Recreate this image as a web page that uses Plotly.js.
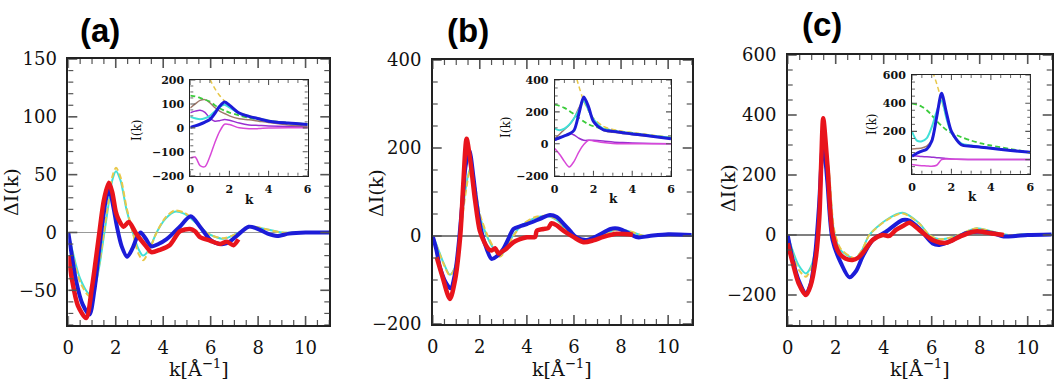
<!DOCTYPE html>
<html>
<head>
<meta charset="utf-8">
<script src="https://cdn.plot.ly/plotly-3.0.1.min.js"></script>
<style>
  html, body { margin: 0; padding: 0; background: #fff; }
  #myDiv { width: 1063px; height: 387px; }
</style>
</head>
<body>
<div id="myDiv"></div>
<script>
// ---- panel (a) main : Delta I(k) ----
var kA_red  = [0.0, 0.15, 0.4, 0.75, 1.0, 1.15, 1.31, 1.5, 1.71, 1.85, 2.0, 2.1, 2.33, 2.55, 2.86, 3.28, 3.5, 3.85, 4.27, 4.7, 5.13, 5.34, 5.55, 5.97, 6.4, 6.68, 6.96, 7.17];
var vA_red  = [-20, -40, -63, -74, -47, -25, 0, 28, 43, 35, 18, 12, 5, 9, -1, -12, -17, -15, -11, 1, 3, 1, -4, -7, -10, -8, -11, -6];
var kA_blue = [0, 0.15, 0.32, 0.6, 0.89, 1.1, 1.3, 1.45, 1.6, 1.73, 1.9, 2.05, 2.25, 2.48, 2.7, 2.9, 3.05, 3.25, 3.5, 3.8, 4.13, 4.4, 4.7, 5.16, 5.55, 5.97, 6.2, 6.54, 6.8, 7.1, 7.6, 8.0, 8.4, 8.8, 9.3, 10, 11];
var vA_blue = [0, -20, -41, -62, -71, -50, -15, 10, 30, 37, 22, 5, -12, -21, -14, -4, 0, -5, -12, -10, -6, -1, 5, 14, 5, -6, -9, -10, -8, -3, 5, 3, -1, -3, -1, 0, 0];
var kA_thin = [0, 0.2, 0.5, 0.89, 1.1, 1.3, 1.5, 1.7, 1.85, 2.01, 2.2, 2.45, 2.72, 2.95, 3.15, 3.4, 3.72, 4.1, 4.48, 4.9, 5.4, 5.82, 6.1, 6.54, 7.0, 7.7, 8.3, 9.0, 10, 11];
var vA_cyan = [0, -18, -40, -53, -48, -30, -3, 25, 45, 53, 45, 20, 0, -14, -20, -15, 0, 12, 18, 16, 8, 0, -3, -5.5, -2, 5, 3, 0, 0, 0];
var vA_yell = [0, -20, -43, -55, -48, -28, 0, 28, 48, 56, 48, 22, 0, -18, -24, -16, 0, 13, 19, 17, 9, 0, -3, -5, -2, 5, 3, 0, 0, 0];

// ---- insets : I(k) on a common k grid ----
var kIn = [0, 0.25, 0.5, 0.75, 1.0, 1.25, 1.5, 1.75, 2.0, 2.5, 3.0, 3.5, 4.0, 5.0, 6.0];
var inA_blue    = [2, 8, 15, 24, 35, 60, 90, 108, 95, 62, 48, 38, 28, 20, 14];
var inA_brown   = [83, 100, 115, 118, 105, 85, 70, 60, 50, 38, 34, 28, 22, 12, 7];
var inA_green   = [135, 132, 125, 118, 110, 95, 82, 72, 64, 52, 42, 35, 28, 20, 15];
var inA_yellow  = [900, 600, 400, 290, 205, 165, 135, 112, 92, 65, 50, 40, 32, 22, 17];
var inA_cyan    = [46, 40, 36, 40, 50, 68, 88, 97, 85, 60, 48, 38, 30, 20, 15];
var inA_purple  = [63, 70, 74, 65, 40, 28, 30, 35, 32, 20, 12, 10, 8, 6, 5];
var inA_magenta = [-126, -122, -158, -162, -120, -63, -15, 15, 14, 0, -4, -3, -1, 0, 0];

// ---- panel (b) main ----
var kB_red  = [0.17, 0.4, 0.73, 0.95, 1.17, 1.3, 1.44, 1.6, 1.8, 2.0, 2.2, 2.36, 2.5, 2.65, 2.8, 2.93, 3.1, 3.28, 3.5, 3.71, 4.0, 4.35, 4.42, 4.7, 4.9, 5.05, 5.27, 5.55, 5.97, 6.4, 6.82, 7.25, 7.81, 8.5];
var vB_red  = [-48, -90, -143, -100, 0, 120, 221, 170, 81, 12, -15, -29, -33, -28, -40, -36, -30, -21, -12, -7, -3, -2, 12, 16, 18, 29, 24, 12, -2, -14, -10, -2, 5, 3];
var kB_blue = [0, 0.15, 0.31, 0.55, 0.76, 0.95, 1.1, 1.25, 1.4, 1.56, 1.73, 1.85, 2.0, 2.2, 2.5, 2.75, 3.0, 3.2, 3.43, 3.7, 4.0, 4.56, 4.98, 5.27, 5.55, 5.83, 6.1, 6.54, 6.97, 7.55, 7.85, 8.2, 8.7, 9.2, 10, 11];
var vB_blue = [0, -30, -71, -105, -119, -85, -20, 70, 160, 194, 134, 80, 28, -15, -52, -45, -29, -8, 16, 22, 27, 39, 48, 43, 28, 12, -3, -9, 0, 16, 17, 10, -3, 0, 4, 2];
var kB_thin = [0, 0.2, 0.45, 0.73, 0.95, 1.15, 1.35, 1.6, 1.8, 2.0, 2.3, 2.6, 2.85, 3.1, 3.4, 3.8, 4.3, 4.9, 5.3, 5.9, 6.4, 7.0, 7.8, 8.4, 9.0, 10, 11];
var vB_cyan = [0, -25, -60, -88, -70, -10, 90, 155, 110, 45, 0, -30, -45, -30, 0, 25, 40, 45, 35, 0, -10, -3, 15, 10, 0, 4, 2];
var vB_yell = [0, -27, -62, -90, -72, -15, 80, 150, 115, 50, 5, -28, -47, -32, -2, 25, 42, 46, 36, 2, -10, -3, 14, 10, 0, 4, 2];

var inB_blue    = [26, 38, 50, 62, 85, 190, 294, 230, 140, 88, 78, 70, 62, 48, 32];
var inB_brown   = [32, 60, 90, 118, 160, 225, 275, 210, 150, 85, 72, 65, 58, 45, 32];
var inB_cyan    = [95, 85, 95, 120, 160, 210, 268, 210, 155, 95, 80, 72, 65, 50, 38];
var inB_green   = [245, 238, 225, 205, 185, 162, 140, 122, 110, 95, 85, 75, 68, 52, 38];
var inB_yellow  = [1500, 1100, 800, 600, 470, 360, 268, 205, 160, 110, 90, 78, 70, 55, 40];
var inB_purple  = [22, 35, 50, 64, 55, 35, 22, 22, 22, 18, 12, 8, 5, 2, 0];
var inB_magenta = [-30, -65, -110, -145, -110, -50, -5, 22, 18, 8, 2, 0, 0, 0, 0];

// ---- panel (c) main ----
var kC_red  = [0, 0.2, 0.45, 0.76, 0.95, 1.18, 1.32, 1.4, 1.48, 1.66, 1.87, 2.15, 2.4, 2.7, 2.95, 3.12, 3.54, 3.96, 4.23, 4.51, 4.8, 5.07, 5.48, 6.04, 6.6, 7.15, 7.71, 8.0, 8.5, 9.0];
var vC_red  = [-28, -90, -160, -200, -170, -72, 61, 250, 389, 228, 6, -61, -78, -83, -75, -61, -17, 0, -3, 17, 30, 41, 17, -17, -26, -6, 11, 12, 5, 0];
var kC_blue = [0, 0.2, 0.45, 0.76, 0.95, 1.15, 1.3, 1.48, 1.65, 1.87, 2.22, 2.57, 2.85, 3.12, 3.54, 4.1, 4.79, 5.07, 5.48, 6.04, 6.32, 6.87, 7.43, 8.12, 8.6, 9.0, 9.5, 10, 11];
var vC_blue = [0, -80, -150, -194, -165, -60, 90, 311, 180, -17, -94, -141, -120, -72, -17, 11, 50, 48, 22, -28, -33, -17, 6, 11, 5, -5, -3, 0, 2];
var kC_thin = [0, 0.2, 0.45, 0.76, 1.0, 1.2, 1.35, 1.53, 1.7, 1.94, 2.2, 2.57, 2.8, 3.1, 3.4, 4.1, 4.79, 5.48, 5.9, 6.32, 7.0, 7.83, 8.5, 9.2, 10, 11];
var vC_cyan = [0, -50, -100, -128, -100, -20, 130, 305, 220, 6, -50, -72, -80, -50, 0, 50, 74, 39, 0, -14, -5, 22, 12, 0, 3, 2];
var vC_yell = [0, -60, -115, -139, -105, -25, 120, 295, 225, 15, -45, -70, -78, -50, 0, 48, 72, 38, 0, -14, -4, 22, 12, 0, 3, 2];

var inC_blue    = [24, 45, 60, 75, 130, 300, 470, 330, 200, 105, 95, 88, 80, 65, 52];
var inC_brown   = [75, 78, 82, 95, 140, 300, 460, 320, 195, 105, 95, 88, 80, 65, 52];
var inC_cyan    = [199, 135, 130, 152, 230, 340, 420, 290, 190, 115, 100, 90, 82, 66, 50];
var inC_green   = [397, 390, 375, 350, 315, 275, 240, 210, 190, 160, 135, 115, 100, 75, 52];
var inC_yellow  = [3000, 2000, 1300, 900, 650, 540, 420, 300, 190, 105, 95, 88, 80, 65, 52];
var inC_purple  = [28, 25, 22, 20, 17, 14, 12, 8, 5, 2, 1, 0, 0, 0, 0];
var inC_magenta = [-35, -40, -43, -45, -47, -40, 0, 5, 3, 1, 0, 0, 0, 0, 0];

var RED = '#e8141c', BLUE = '#1c1cd8', CYAN = '#40e0d8', YELL = '#e8c84a',
    GREEN = '#3ccc3c', BROWN = '#a0786a', PURPLE = '#9a30d0', MAGENTA = '#d848d8';
var serif = 'DejaVu Serif, serif';

function curve(x, y, xa, ya, color, width, dash) {
  return {x: x, y: y, xaxis: xa, yaxis: ya, type: 'scatter', mode: 'lines',
          line: {color: color, width: width, dash: dash || 'solid', shape: 'spline', smoothing: 0.8},
          showlegend: false, hoverinfo: 'skip'};
}

function mainPanel(thin, cyan, yell, kb, blue, kr, red, xa, ya) {
  return [
    curve(thin, cyan, xa, ya, CYAN, 2),
    curve(thin, yell, xa, ya, YELL, 2, '6px,3px'),
    curve(kb, blue, xa, ya, BLUE, 4),
    curve(kr, red, xa, ya, RED, 4.5)
  ];
}

function insetPanel(vals, xa, ya) {
  return [
    curve(kIn, vals.purple, xa, ya, PURPLE, 1.5),
    curve(kIn, vals.magenta, xa, ya, MAGENTA, 1.5),
    curve(kIn, vals.brown, xa, ya, BROWN, 1.5),
    curve(kIn, vals.green, xa, ya, GREEN, 1.8, '5px,3px'),
    curve(kIn, vals.yellow, xa, ya, YELL, 1.5, '5px,3px'),
    curve(kIn, vals.cyan, xa, ya, CYAN, 2),
    curve(kIn, vals.blue, xa, ya, BLUE, 3)
  ];
}

var data = [].concat(
  mainPanel(kA_thin, vA_cyan, vA_yell, kA_blue, vA_blue, kA_red, vA_red, 'x', 'y'),
  insetPanel({blue: inA_blue, brown: inA_brown, green: inA_green, yellow: inA_yellow,
              cyan: inA_cyan, purple: inA_purple, magenta: inA_magenta}, 'x2', 'y2'),
  mainPanel(kB_thin, vB_cyan, vB_yell, kB_blue, vB_blue, kB_red, vB_red, 'x3', 'y3'),
  insetPanel({blue: inB_blue, brown: inB_brown, green: inB_green, yellow: inB_yellow,
              cyan: inB_cyan, purple: inB_purple, magenta: inB_magenta}, 'x4', 'y4'),
  mainPanel(kC_thin, vC_cyan, vC_yell, kC_blue, vC_blue, kC_red, vC_red, 'x5', 'y5'),
  insetPanel({blue: inC_blue, brown: inC_brown, green: inC_green, yellow: inC_yellow,
              cyan: inC_cyan, purple: inC_purple, magenta: inC_magenta}, 'x6', 'y6')
);

var W = 1063, H = 387;
function dx(a, b) { return [a / W, b / W]; }
function dy(top, bottom) { return [(H - bottom) / H, (H - top) / H]; }

function axis(dom, anchor, range, dtick, big) {
  return {
    domain: dom, anchor: anchor, range: range, tick0: 0, dtick: dtick,
    ticks: '', mirror: true, showline: true, linecolor: '#222', linewidth: big ? 1.5 : 1,
    showgrid: false, zeroline: false, ticklabelstandoff: big ? 6 : 3,
    tickfont: big ? {family: serif, size: 18, color: '#111'}
                  : {family: serif, size: 11, color: '#111', weight: 'bold'}
  };
}

var layout = {
  width: W, height: H,
  margin: {l: 0, r: 0, t: 0, b: 0},
  showlegend: false,
  xaxis:  axis(dx(68.3, 329.3), 'y', [0, 11], 2, true),
  yaxis:  axis(dy(59, 325), 'x', [-80, 150], 50, true),
  xaxis2: axis(dx(190.3, 307.7), 'y2', [0, 6], 2, false),
  yaxis2: axis(dy(80, 175.7), 'x2', [-200, 200], 100, false),
  xaxis3: axis(dx(432.7, 691.7), 'y3', [0, 11], 2, true),
  yaxis3: axis(dy(60, 324), 'x3', [-200, 400], 200, true),
  xaxis4: axis(dx(554.7, 671), 'y4', [0, 6], 2, false),
  yaxis4: axis(dy(80, 175.7), 'x4', [-200, 400], 200, false),
  xaxis5: axis(dx(787.7, 1051.7), 'y5', [0, 11], 2, true),
  yaxis5: axis(dy(55, 325), 'x5', [-300, 600], 200, true),
  xaxis6: axis(dx(912, 1030.3), 'y6', [0, 6], 2, false),
  yaxis6: axis(dy(75, 173.7), 'x6', [-100, 600], 200, false),
  shapes: [],
  annotations: []
};

// k-axis reference lines at I = 0 (grey in (a) and the insets, black in (b), (c))
var zeroRefs = [['x', 'y', '#999'], ['x2', 'y2', '#999'], ['x3', 'y3', '#000'],
                ['x4', 'y4', '#999'], ['x5', 'y5', '#000'], ['x6', 'y6', '#999']];
zeroRefs.forEach(function (z) {
  layout.shapes.push({type: 'line', xref: z[0] + ' domain', yref: z[1], x0: 0, x1: 1, y0: 0, y1: 0,
    line: {color: z[2], width: 1.2}, layer: 'below'});
});

// inward tick marks on all four sides of a box, built from the axis range and steps
function boxTicks(xa, ya, big) {
  var ax = layout[xa === 'x' ? 'xaxis' : 'xaxis' + xa.slice(1)];
  var ay = layout[ya === 'y' ? 'yaxis' : 'yaxis' + ya.slice(1)];
  var steps = {x: [ax.dtick, ax.dtick / 4], y: [ay.dtick, big ? ay.dtick / 5 : ay.dtick / 4]};
  if (big && ay.dtick === 200) steps.y[1] = 50;
  var L = big ? 9 : 5, l = big ? 5 : 3, col = '#555';
  function marks(letter, range, major, minor) {
    var i0 = Math.ceil(range[0] / minor - 1e-9), i1 = Math.floor(range[1] / minor + 1e-9);
    for (var i = i0; i <= i1; i++) {
      var v = i * minor;
      var isMajor = Math.abs(v / major - Math.round(v / major)) < 1e-6;
      var len = isMajor ? L : l, w = isMajor ? (big ? 1.6 : 1.1) : (big ? 1.2 : 0.9);
      [0, 1].forEach(function (side) {
        var s = side ? -len : len;
        if (letter === 'x') {
          layout.shapes.push({type: 'line', xref: xa, yref: ya + ' domain', ysizemode: 'pixel', yanchor: side,
            x0: v, x1: v, y0: 0, y1: s, line: {color: col, width: w}, layer: 'above'});
        } else {
          layout.shapes.push({type: 'line', xref: xa + ' domain', yref: ya, xsizemode: 'pixel', xanchor: side,
            x0: 0, x1: s, y0: v, y1: v, line: {color: col, width: w}, layer: 'above'});
        }
      });
    }
  }
  marks('x', ax.range, steps.x[0], steps.x[1]);
  marks('y', ay.range, steps.y[0], steps.y[1]);
}
boxTicks('x', 'y', true);
boxTicks('x2', 'y2', false);
boxTicks('x3', 'y3', true);
boxTicks('x4', 'y4', false);
boxTicks('x5', 'y5', true);
boxTicks('x6', 'y6', false);

// panel letters and axis titles
var letters = [['(a)', 100, 31], ['(b)', 468, 31], ['(c)', 822, 25]];
letters.forEach(function (l) {
  layout.annotations.push({text: '<b>' + l[0] + '</b>', x: l[1] / W, y: 1 - l[2] / H,
    xref: 'paper', yref: 'paper', showarrow: false, xanchor: 'center', yanchor: 'middle',
    font: {family: 'Liberation Sans, Arial, sans-serif', size: 33, color: '#000'}});
});
var xt = [198.8, 562.2, 919.7];
var yt = [[11, 192], [376, 193], [728, 188]];
for (var i = 0; i < 3; i++) {
  layout.annotations.push({text: 'k[Å<sup>−1</sup>]', x: xt[i] / W, y: 1 - 368 / H,
    xref: 'paper', yref: 'paper', showarrow: false, xanchor: 'center', yanchor: 'middle',
    font: {family: serif, size: 19, color: '#111'}});
  layout.annotations.push({text: 'ΔI(k)', x: yt[i][0] / W, y: 1 - yt[i][1] / H, textangle: -90,
    xref: 'paper', yref: 'paper', showarrow: false, xanchor: 'center', yanchor: 'middle',
    font: {family: serif, size: 19, color: '#111'}});
}
var insetTitles = [[249, 200, 137, 131], [613, 199, 506, 128], [972, 197, 872, 125]];
insetTitles.forEach(function (t) {
  layout.annotations.push({text: 'k', x: t[0] / W, y: 1 - t[1] / H,
    xref: 'paper', yref: 'paper', showarrow: false, xanchor: 'center', yanchor: 'middle',
    font: {family: serif, size: 12, color: '#111', weight: 'bold'}});
  layout.annotations.push({text: 'I(k)', x: t[2] / W, y: 1 - t[3] / H, textangle: -90,
    xref: 'paper', yref: 'paper', showarrow: false, xanchor: 'center', yanchor: 'middle',
    font: {family: serif, size: 12, color: '#111'}});
});

Plotly.newPlot('myDiv', data, layout, {displayModeBar: false});
</script>
</body>
</html>
